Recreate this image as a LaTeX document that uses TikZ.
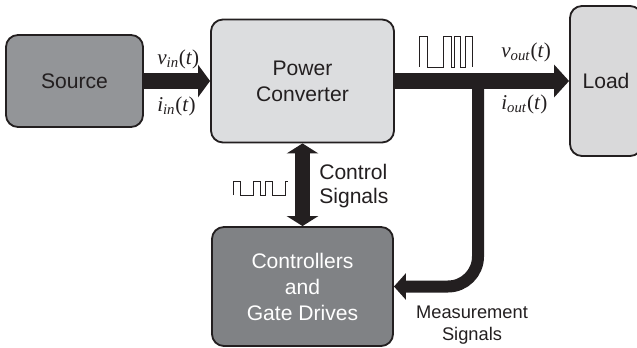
\documentclass[tikz,border=0pt]{standalone}
\usepackage[no-math]{fontspec}
\setmainfont{Liberation Sans}
\newfontfamily\labelfont{Liberation Serif}
\usetikzlibrary{arrows.meta}
\definecolor{ink}{HTML}{231F20}
\definecolor{srcgray}{HTML}{939598}
\definecolor{convgray}{HTML}{DCDDDF}
\definecolor{loadgray}{HTML}{D9D9DA}
\definecolor{ctrlgray}{HTML}{808285}
\newcommand{\sigvar}[2]{\textit{#1}\textsubscript{\textit{#2}}(\textit{t})}
\begin{document}
\begin{tikzpicture}[
  x = 0.025cm,
  y = -0.025cm,
  block/.style = {
    draw = ink,
    line width = 1.3pt,
    rounded corners = 0.3cm,
    align = center,
    text = ink,
    inner sep = 0pt,
    font = \fontsize{15}{18.5}\selectfont
  },
  bus/.style = {
    draw = ink,
    line width = 0.375cm,
    -{Triangle[width = 0.8cm, length = 0.3cm]}
  },
  sig/.style = {
    text = ink,
    inner sep = 0pt,
    font = \labelfont\fontsize{15}{17}\selectfont
  },
  note/.style = {
    text = ink,
    inner sep = 0pt,
    font = \fontsize{15}{17}\selectfont
  },
  wave/.style = {
    draw = ink,
    line width = 0.7pt
  }
]
  \useasboundingbox (0, 0) rectangle (637, 348);

  \node[block, fill = srcgray, minimum width = 3.425cm, minimum height = 2.3cm] (source) at (74.5, 81) {Source};
  \node[block, fill = convgray, minimum width = 4.575cm, minimum height = 3.075cm] (conv) at (302.5, 81) {Power\\Converter};
  \node[block, fill = loadgray, minimum width = 1.8cm, minimum height = 3.75cm] (load) at (606, 81) {Load};
  \node[block, fill = ctrlgray, text = white, minimum width = 4.525cm, minimum height = 2.975cm] (ctrl) at (302.5, 286.5) {Controllers\\and\\Gate Drives};

  \draw[bus] (source.east) -- (conv.west);
  \draw[bus, -{Triangle[width = 0.8cm, length = 0.375cm]}] (conv.east) -- (load.west);

  \coordinate (tap) at (478, 81);
  \draw[bus, line width = 0.3cm, rounded corners = 0.75cm, -{Triangle[width = 0.65cm, length = 0.3cm]}] (tap) |- (ctrl.east);

  \draw[bus, {Triangle[width = 0.78cm, length = 0.25cm]}-{Triangle[width = 0.78cm, length = 0.25cm]}] (conv.south) -- (ctrl.north);

  \node[sig, anchor = west] (vin) at (157, 59) {\sigvar{v}{in}};
  \node[sig, anchor = west] (iin) at (157, 106) {\sigvar{i}{in}};
  \node[sig, anchor = west] (vout) at (501, 52) {\sigvar{v}{out}};
  \node[sig, anchor = west] (iout) at (501, 104) {\sigvar{i}{out}};

  \node[note, anchor = west, align = left] (ctlsig) at (319, 186) {Control\\Signals};
  \node[note, align = center, font = \fontsize{13}{15.5}\selectfont] (meas) at (472, 325) {Measurement\\Signals};

  \draw[wave] (419, 67) |- (427, 36) |- (443, 67) |- (451, 36) |- (454, 67) |- (460, 36) |- (465, 67) |- (472, 36) -- (472, 67);
  \draw[wave] (233, 195) |- (240, 181) |- (253, 195) |- (260, 181) |- (265, 195) |- (272, 181) |- (285, 195) |- (288, 181);
\end{tikzpicture}
\end{document}
